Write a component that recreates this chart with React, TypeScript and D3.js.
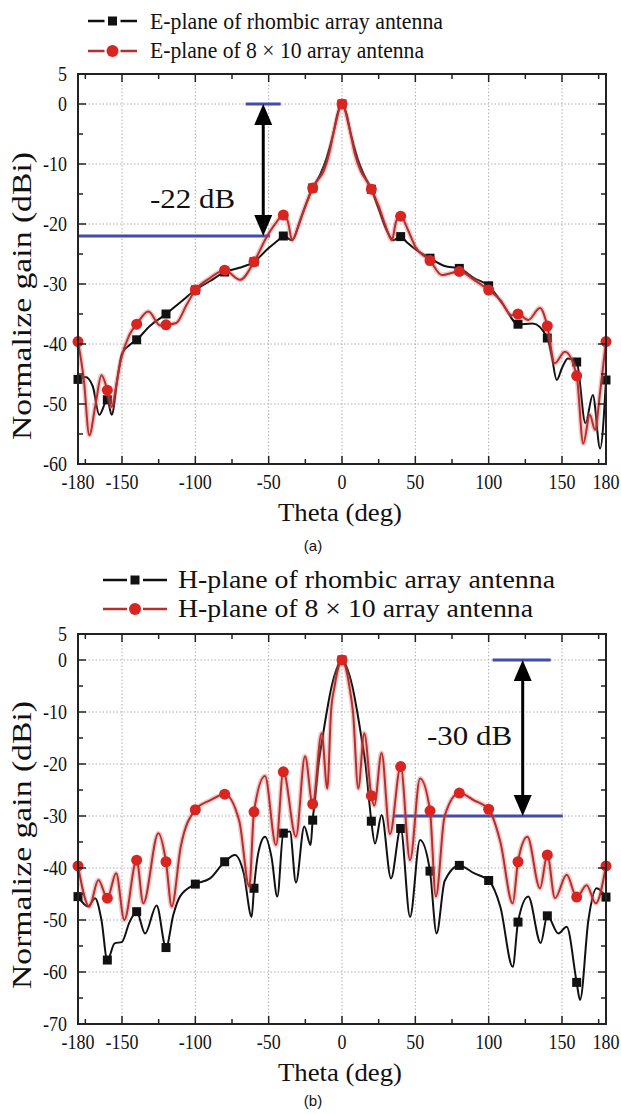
import React from 'react';
import * as d3 from 'd3';

type Pt = [number, number];

// ---------- axes ----------
const thetaLabels = [-180, -150, -100, -50, 0, 50, 100, 150, 180];
const thetaGrid = [-150, -100, -50, 0, 50, 100, 150];
const thetaMinor = [-175, -125, -75, -25, 25, 75, 125, 175];
const gainLabelsA = [5, 0, -10, -20, -30, -40, -50, -60];
const gainLabelsB = [5, 0, -10, -20, -30, -40, -50, -60, -70];

// ---------- (a) E-plane ----------
const ePlaneRhombic: Pt[] = [
  [-180, -45.9], [-175, -45.5], [-170, -47], [-165.5, -51.8], [-160, -49.3], [-157, -51.8], [-153, -45.5],
  [-150, -41.6], [-145, -40.2], [-140, -39.3], [-131, -37], [-120, -35], [-110, -33], [-100, -31], [-90, -29.5],
  [-80, -28], [-70, -27.3], [-60, -26.3], [-50, -24], [-44, -22.8], [-40, -22], [-34, -22.7], [-28, -19],
  [-20, -14], [-15, -11.8], [-10.5, -9], [-6, -5], [-3, -1.6], [0, 0], [3, -1.6], [6, -5], [10.5, -9],
  [15, -11.8], [20, -14.2], [25, -17.5], [30, -20.8], [35, -22.7], [40, -22.1], [44, -23], [50, -24.2],
  [60, -25.7], [70, -27], [80, -27.4], [90, -29], [100, -30.3], [110, -33.5], [120, -36.7], [130, -36.6],
  [140, -39], [143, -42], [146.4, -46], [150, -44], [154, -42.4], [160, -43], [166, -53.2], [171, -48.5],
  [176, -57.4], [180, -46],
];
const ePlane8x10: Pt[] = [
  [-180, -39.6], [-176, -46], [-172.3, -55.2], [-168, -50], [-164, -45.2], [-160, -47.7], [-157, -50.5],
  [-154, -47], [-151, -42.9], [-145, -38.5], [-140, -36.7], [-132, -34.6], [-124, -36.9], [-120, -36.8],
  [-113, -36.5], [-106, -33.5], [-100, -31], [-90, -29], [-80, -27.7], [-69.5, -29.3], [-60, -26.3],
  [-51, -22], [-45, -19.8], [-40, -18.5], [-37, -19.5], [-34, -22.7], [-30, -20.5], [-25, -17], [-20, -14],
  [-16, -12.5], [-12.7, -11.3], [-9, -8.5], [-5, -4], [0, 0], [5, -4], [9, -8.5], [13, -11.3], [16, -12.5],
  [20, -14.2], [25, -17], [30, -20.5], [34, -22.7], [37, -19.5], [40, -18.7], [45, -21], [50, -23.8],
  [60, -26.1], [68, -28.5], [80, -27.9], [90, -29.3], [100, -31], [108, -32.7], [115.7, -35.2], [120, -35],
  [127, -36], [135, -34], [140, -37], [145, -43.2], [152, -41.3], [160, -45.3], [164.5, -56.6], [169, -51.8],
  [172.5, -54.3], [176, -48], [180, -39.6],
];

// ---------- (b) H-plane ----------
const hPlaneRhombic: Pt[] = [
  [-180, -45.5], [-173, -47.4], [-168.4, -45.8], [-164, -50], [-160, -57.7], [-155, -54.5], [-150, -54.2],
  [-145, -50.5], [-140, -48.4], [-134.3, -52.6], [-126.4, -47.2], [-120, -55.3], [-115, -49], [-110.5, -45.5],
  [-100, -43.1], [-90, -42], [-80, -38.8], [-73, -37.5], [-67, -41], [-61.6, -49.4], [-60, -43.9], [-57, -37],
  [-52.5, -34], [-48, -38], [-44.1, -45.5], [-40, -33.3], [-35.5, -33], [-31.4, -42.8], [-25.7, -32],
  [-21.4, -35.6], [-20, -30.8], [-18.5, -27], [-16, -20], [-13, -14.5], [-10.4, -10], [-7, -5], [-4, -2],
  [0, 0], [4, -2], [7, -5], [10.4, -10], [13, -14.5], [16, -20], [18.5, -27], [20, -31], [22.5, -35.3],
  [27, -29.8], [33.4, -42], [40, -32.4], [46.4, -49.4], [53.2, -34.6], [60, -40.6], [64.5, -52.6],
  [70, -42.5], [80, -39.5], [90, -41], [100, -42.4], [108, -47.5], [116.4, -59], [120, -50.4], [127, -45.5],
  [135.5, -54.4], [140, -49.2], [147.5, -52.6], [153.2, -51.3], [160, -62], [162.3, -65.4], [168, -50],
  [173.6, -43.9], [180, -45.6],
];
const hPlane8x10: Pt[] = [
  [-180, -39.6], [-172.3, -47.4], [-166.1, -42.3], [-160, -45.8], [-154, -41], [-148.4, -50], [-140, -38.5],
  [-135.5, -46.8], [-125.2, -33.3], [-120, -38.8], [-116.1, -47.4], [-110, -36], [-100, -28.8], [-90, -27],
  [-80, -25.8], [-70, -31], [-63.2, -43.6], [-60, -29.2], [-52.5, -22.3], [-45, -35.6], [-40, -21.5],
  [-31.4, -34], [-25.2, -18.5], [-20, -27.7], [-13.9, -14.1], [-10, -24.7], [-7.5, -10], [-5, -5],
  [-2.5, -1.5], [0, 0], [2.5, -1.5], [5, -5], [7.5, -10], [11.1, -24.7], [15.2, -14.1], [20, -26.1],
  [22, -28], [27, -17.9], [32.7, -33.5], [40, -20.5], [46.4, -38.5], [53.2, -22.8], [60, -29], [64, -45.5],
  [70, -30], [80, -25.6], [90, -27], [100, -28.7], [108, -35], [116.4, -46.8], [120, -38.8], [126.4, -34],
  [135, -43.9], [140, -37.5], [145.2, -45.8], [153.2, -41.3], [160, -45.6], [166.8, -43.3], [173, -46.8],
  [180, -39.6],
];

const legendA = ['E-plane of rhombic array antenna', 'E-plane of 8 \u00d7 10 array antenna'];
const legendB = ['H-plane of rhombic array antenna', 'H-plane of 8 \u00d7 10 array antenna'];

const SERIF = "'Liberation Serif','Times New Roman',serif";
const SANS = "'Liberation Sans',Arial,sans-serif";
const BLUE = '#3f4bb0';
const RED = '#b3302e';
const RED_MK = '#d92420';
const INK = '#111';

type Annot = {
  low: number; lowFrom: number; lowTo: number;
  topFrom: number; topTo: number; arrowTheta: number;
  label: string; labelX: number; labelY: number;
};

type LegendCfg = {
  lines: string[]; lineY: number[]; baseY: number[]; size: number; lens: number[];
  segFrom: number; segTo: number; textX: number;
};

type PanelProps = {
  top: number; bottom: number; yMin: number; yMax: number; gainLabels: number[];
  black: Pt[]; red: Pt[]; legend: LegendCfg;
  annot: Annot; caption: string; captionY: number; yTitleCenter: number;
};

function SText(props: { x: number; y: number; size: number; sy?: number; anchor?: string; children: React.ReactNode }) {
  const sy = props.sy ?? 1.2;
  return (
    <text transform={`translate(${props.x},${props.y}) scale(1,${sy})`} textAnchor={props.anchor || 'start'}
      fontFamily={SERIF} fontSize={props.size} fill={INK}>{props.children}</text>
  );
}

function Panel(p: PanelProps) {
  const left = 78, right = 606;
  const x = d3.scaleLinear().domain([-180, 180]).range([left, right]);
  const y = d3.scaleLinear().domain([p.yMin, p.yMax]).range([p.bottom, p.top]);
  const line = d3.line<Pt>().x(d => x(d[0])).y(d => y(d[1])).curve(d3.curveMonotoneX);
  const yTicks = d3.range(p.yMin, p.yMax + 0.01, 5);
  const yGrid = p.gainLabels.filter(v => v !== p.yMin && v !== p.yMax);
  const isMark = (d: Pt) => Math.abs(d[0] % 20) < 1e-9;
  const a = p.annot;
  const ax = x(a.arrowTheta);
  const yTop = y(0), yLow = y(a.low);
  const hw = 9, hh = 21;
  const axisColor = '#222';
  const lg = p.legend;
  return (
    <g>
      {/* grid */}
      {thetaGrid.map(t => (
        <line key={'gx' + t} x1={x(t)} x2={x(t)} y1={p.top} y2={p.bottom} stroke="#b0b0b0" strokeWidth={1} strokeDasharray="1.5,2" />
      ))}
      {yGrid.map(v => (
        <line key={'gy' + v} x1={left} x2={right} y1={y(v)} y2={y(v)} stroke="#b0b0b0" strokeWidth={1} strokeDasharray="1.5,2" />
      ))}
      {/* annotation blue lines */}
      <line x1={x(a.lowFrom)} x2={x(a.lowTo)} y1={yLow} y2={yLow} stroke={BLUE} strokeWidth={3} />
      <line x1={x(a.topFrom)} x2={x(a.topTo)} y1={yTop} y2={yTop} stroke={BLUE} strokeWidth={3} />
      {/* curves */}
      <path d={line(p.black) || ''} fill="none" stroke={INK} strokeWidth={2} />
      {p.black.filter(isMark).map(d => (
        <rect key={'bm' + d[0]} x={x(d[0]) - 4.5} y={y(d[1]) - 4.5} width={9} height={9} fill={INK} />
      ))}
      <path d={line(p.red) || ''} fill="none" stroke="#e06060" strokeOpacity={0.35} strokeWidth={5} />
      <path d={line(p.red) || ''} fill="none" stroke={RED} strokeWidth={2} />
      {p.red.filter(isMark).map(d => (
        <circle key={'rm' + d[0]} cx={x(d[0])} cy={y(d[1])} r={5.5} fill={RED_MK} />
      ))}
      {/* arrow */}
      <line x1={ax} x2={ax} y1={yTop + hh - 2} y2={yLow - hh + 2} stroke="#000" strokeWidth={3} />
      <polygon points={`${ax},${yTop} ${ax - hw},${yTop + hh} ${ax + hw},${yTop + hh}`} fill="#000" />
      <polygon points={`${ax},${yLow} ${ax - hw},${yLow - hh} ${ax + hw},${yLow - hh}`} fill="#000" />
      <text x={a.labelX} y={a.labelY} fontFamily={SERIF} fontSize={27} fill={INK} textLength={85} lengthAdjust="spacingAndGlyphs">{a.label}</text>
      {/* frame */}
      <rect x={left} y={p.top} width={right - left} height={p.bottom - p.top} fill="none" stroke={axisColor} strokeWidth={2} />
      {/* x ticks */}
      {thetaGrid.map(t => (
        <g key={'xt' + t}>
          <line x1={x(t)} x2={x(t)} y1={p.bottom} y2={p.bottom - 8} stroke={axisColor} strokeWidth={1.5} />
          <line x1={x(t)} x2={x(t)} y1={p.top} y2={p.top + 8} stroke={axisColor} strokeWidth={1.5} />
        </g>
      ))}
      {thetaMinor.map(t => (
        <g key={'xm' + t}>
          <line x1={x(t)} x2={x(t)} y1={p.bottom} y2={p.bottom - 5} stroke={axisColor} strokeWidth={1.5} />
          <line x1={x(t)} x2={x(t)} y1={p.top} y2={p.top + 5} stroke={axisColor} strokeWidth={1.5} />
        </g>
      ))}
      {/* y ticks */}
      {yTicks.map(v => {
        const major = v % 10 === 0;
        const l = major ? 8 : 5;
        return (
          <g key={'yt' + v}>
            <line x1={left} x2={left + l} y1={y(v)} y2={y(v)} stroke={axisColor} strokeWidth={1.5} />
            <line x1={right} x2={right - l} y1={y(v)} y2={y(v)} stroke={axisColor} strokeWidth={1.5} />
          </g>
        );
      })}
      {/* tick labels */}
      {thetaLabels.map(t => (
        <SText key={'xl' + t} x={x(t)} y={p.bottom + 25} size={18} anchor="middle">{t}</SText>
      ))}
      {p.gainLabels.map(v => (
        <SText key={'yl' + v} x={67} y={y(v) + 7} size={18} anchor="end">{v}</SText>
      ))}
      {/* titles */}
      <text x={340} y={p.bottom + 57} textAnchor="middle" fontFamily={SERIF} fontSize={26} fill={INK}
        textLength={124} lengthAdjust="spacingAndGlyphs">Theta (deg)</text>
      <text transform={`translate(31,${p.yTitleCenter}) rotate(-90)`} textAnchor="middle" fontFamily={SERIF} fontSize={27} fill={INK}
        textLength={288} lengthAdjust="spacingAndGlyphs">Normalize gain (dBi)</text>
      <text x={313} y={p.captionY} textAnchor="middle" fontFamily={SANS} fontSize={15} fill={INK}>{p.caption}</text>
      {/* legend */}
      {[0, 1].map(i => {
        const ly = lg.lineY[i];
        const col = i === 0 ? INK : RED;
        const mid = (lg.segFrom + lg.segTo) / 2;
        return (
          <g key={'lg' + i}>
            <line x1={lg.segFrom} x2={mid - 8} y1={ly} y2={ly} stroke={col} strokeWidth={2.5} />
            <line x1={mid + 8} x2={lg.segTo} y1={ly} y2={ly} stroke={col} strokeWidth={2.5} />
            {i === 0 ? (
              <rect x={mid - 4.5} y={ly - 4.5} width={9} height={9} fill={INK} />
            ) : (
              <circle cx={mid} cy={ly} r={6} fill={RED_MK} />
            )}
            <text x={lg.textX} y={lg.baseY[i]} fontFamily={SERIF} fontSize={lg.size} fill={INK}
              textLength={lg.lens[i]} lengthAdjust="spacingAndGlyphs">{lg.lines[i]}</text>
          </g>
        );
      })}
    </g>
  );
}

export default function App() {
  return (
    <svg width={621} height={1114} style={{ position: 'absolute', left: 0, top: 0, background: '#fff' }}>
      <rect width={621} height={1114} fill="#fff" />
      <Panel
        top={74} bottom={464} yMin={-60} yMax={5} gainLabels={gainLabelsA}
        black={ePlaneRhombic} red={ePlane8x10}
        legend={{ lines: legendA, lineY: [21, 51], baseY: [29, 58], size: 23, lens: [293, 274], segFrom: 88, segTo: 137, textX: 150 }}
        annot={{ low: -22, lowFrom: -180, lowTo: -49, topFrom: -65.7, topTo: -41.8, arrowTheta: -53.7, label: '-22 dB', labelX: 150, labelY: 208 }}
        caption="(a)" captionY={551} yTitleCenter={296}
      />
      <Panel
        top={634} bottom={1024} yMin={-70} yMax={5} gainLabels={gainLabelsB}
        black={hPlaneRhombic} red={hPlane8x10}
        legend={{ lines: legendB, lineY: [580, 609], baseY: [588, 617], size: 26, lens: [377, 355], segFrom: 103, segTo: 167, textX: 178 }}
        annot={{ low: -30, lowFrom: 35, lowTo: 150.5, topFrom: 102.7, topTo: 142.3, arrowTheta: 123.2, label: '-30 dB', labelX: 427, labelY: 745 }}
        caption="(b)" captionY={1106} yTitleCenter={845}
      />
    </svg>
  );
}
